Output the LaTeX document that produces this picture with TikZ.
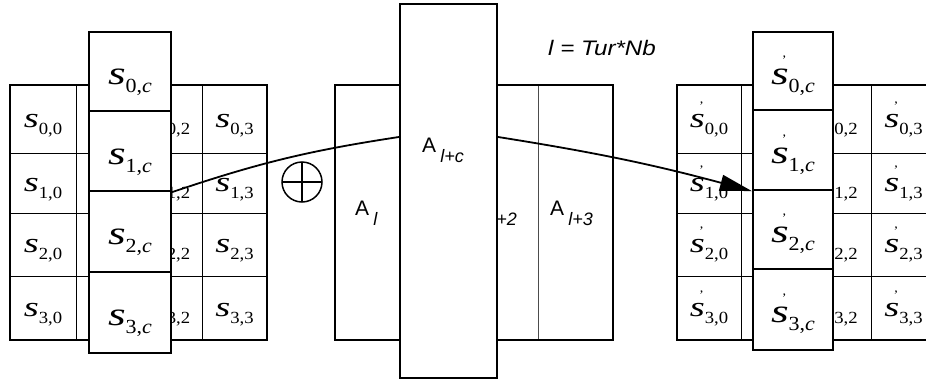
\documentclass[tikz,border=0pt]{standalone}
\usepackage{fontspec}
\setmainfont{Liberation Serif}
\setsansfont{Liberation Sans}
\usetikzlibrary{arrows.meta}
\newcommand{\wideS}{\scalebox{1.25}[1]{\textit{s}}}
\newcommand{\pmk}{\makebox[0pt][l]{\hspace{0.3em}\raisebox{0.6em}{\fontsize{13}{13}\selectfont '}}}
\newcommand{\gS}[2]{\scalebox{1.1}[1]{\fontsize{28}{28}\selectfont\wideS\raisebox{-0.25em}{\fontsize{17}{17}\selectfont #1,#2}}}
\newcommand{\gSp}[2]{\scalebox{1.1}[1]{\fontsize{28}{28}\selectfont\pmk\wideS\raisebox{-0.25em}{\fontsize{17}{17}\selectfont #1,#2}}}
\newcommand{\cS}[1]{\scalebox{1.1}[1]{\fontsize{33}{33}\selectfont\wideS\raisebox{-0.25em}{\fontsize{20}{20}\selectfont #1,\textit{c}}}}
\newcommand{\cSp}[1]{\scalebox{1.1}[1]{\fontsize{33}{33}\selectfont\pmk\wideS\raisebox{-0.25em}{\fontsize{20}{20}\selectfont #1,\textit{c}}}}
\newcommand{\Asub}[1]{{\sffamily\fontsize{21}{21}\selectfont A\hspace{0.2em}\raisebox{-10pt}{\fontsize{18}{18}\selectfont\itshape #1}}}
\tikzset{
  cell/.style={draw, line width=1pt, inner sep=0pt, text height=16pt, text depth=0pt},
  outer/.style={draw, line width=2pt, inner sep=0pt},
  colcell/.style={draw, fill=white, line width=2.2pt, inner sep=0pt, text height=26pt, text depth=0pt},
  mcell/.style={draw=gray!60!black, line width=1pt, inner sep=0pt, minimum height=255pt},
  alab/.style={anchor=base west, inner sep=0pt},
  conn/.style={line width=1.8pt},
}
\begin{document}
\begin{tikzpicture}[x=1pt,y=-1pt]
\useasboundingbox (0,0) rectangle (926,383);
\clip (0,0) rectangle (926,383);
\fill[white] (0,0) rectangle (926,383);
% left grid
\foreach \r/\ya/\yb in {0/85/153,1/153/213,2/213/276,3/276/340}{
  \foreach \c/\xa/\xb in {0/10/76,1/76/140,2/140/202,3/202/267}{
    \node[cell, minimum width={(\xb-\xa)*1pt}, minimum height={(\yb-\ya)*1pt}] (L\r\c) at ({(\xa+\xb)/2},{(\ya+\yb)/2}) {\gS{\r}{\c}};
  }
}
\node[outer, minimum width=257pt, minimum height=255pt] (LG) at (138.5,212.5) {};
\foreach \r/\ya/\yb in {0/32/111,1/111/191,2/191/272,3/272/353}{
  \node[colcell, minimum width=82pt, minimum height={(\yb-\ya)*1pt}] (LC\r) at (130,{(\ya+\yb)/2}) {\cS{\r}};
}
% right grid
\foreach \r/\ya/\yb in {0/85/153,1/153/213,2/213/276,3/276/340}{
  \foreach \c/\xa/\xb in {0/677/741,1/741/806,2/806/871,3/871/936}{
    \node[cell, minimum width={(\xb-\xa)*1pt}, minimum height={(\yb-\ya)*1pt}] (R\r\c) at ({(\xa+\xb)/2},{(\ya+\yb)/2}) {\gSp{\r}{\c}};
  }
}
\node[outer, minimum width=259pt, minimum height=255pt] (RG) at (806.5,212.5) {};
\foreach \r/\ya/\yb in {0/32/110,1/110/190,2/190/269,3/269/350}{
  \node[colcell, minimum width=80pt, minimum height={(\yb-\ya)*1pt}] (RC\r) at (793,{(\ya+\yb)/2}) {\cSp{\r}};
}
% middle
\node[mcell, minimum width=69pt] (M0) at (369.5,212.5) {};
\node[mcell, minimum width=69pt] (M1) at (438.5,212.5) {};
\node[mcell, minimum width=65pt] (M2) at (505.5,212.5) {};
\node[mcell, minimum width=75pt] (M3) at (575.5,212.5) {};
\node[alab] (A0) at (355,215) {\Asub{l}};
\node[alab] (A2) at (474,215) {\Asub{l+2}};
\node[alab] (A3) at (550,215) {\Asub{l+3}};
\node[outer, minimum width=278pt, minimum height=255pt] (MG) at (474,212.5) {};
\node[colcell, minimum width=97pt, minimum height=374pt] (AC) at (448.5,191) {};
\node[alab] (ACt) at (422,152) {\Asub{l+c}};
\node (eq) at (602,48) {\scalebox{1.15}[1]{\sffamily\itshape\fontsize{21}{21}\selectfont l = Tur*Nb}};
% xor
\node[circle, draw, line width=1.5pt, minimum size=40pt, inner sep=0pt,
  path picture={\draw[line width=1.5pt] (path picture bounding box.north) -- (path picture bounding box.south)
    (path picture bounding box.west) -- (path picture bounding box.east);}] (xor) at (302,182) {};
% connectors
\draw[conn] (LC1.south east) to[bend left=5] ([yshift=54pt]AC.west);
\draw[conn, -{Triangle[length=32pt,width=16pt]}] ([yshift=54pt]AC.east) to[bend left=3] (RC1.south west);
\end{tikzpicture}
\end{document}
